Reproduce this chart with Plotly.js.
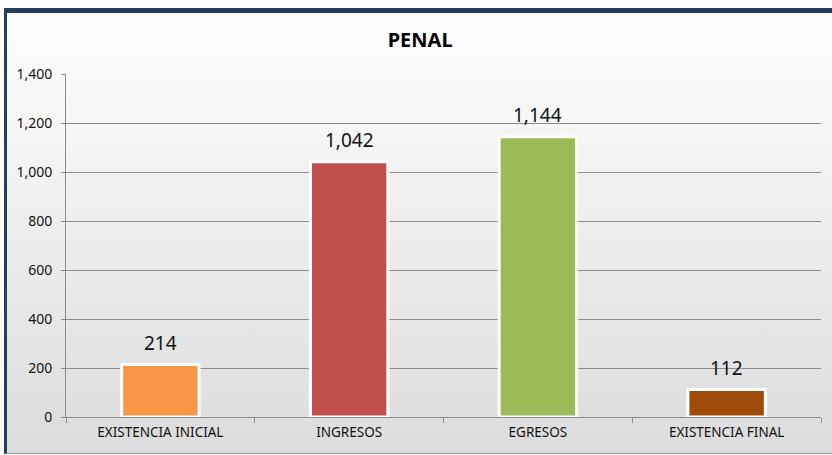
<!DOCTYPE html>
<html>
<head>
<meta charset="utf-8">
<script src="https://cdn.plot.ly/plotly-3.0.1.min.js"></script>
<style>
html,body{margin:0;padding:0;background:#fff;}
#frame{position:absolute;left:4px;top:8px;width:828px;height:446px;box-sizing:border-box;
  border-top:5px solid #243F60;border-left:3px solid #243F60;border-bottom:1px solid #8896A8;
  background:linear-gradient(to bottom,#FFFFFF 0%,#EFEFEF 45%,#DCDCDC 100%);}
#chart{position:absolute;left:0;top:0;width:832px;height:455px;}
</style>
</head>
<body>
<div id="frame"></div>
<div id="chart"></div>
<script>
const categories = ["EXISTENCIA INICIAL", "INGRESOS", "EGRESOS", "EXISTENCIA FINAL"];
const values = [214, 1042, 1144, 112];
const barColors = ["#F79646", "#C0504D", "#9BBB59", "#9E4A09"];
const yTickVals = [0, 200, 400, 600, 800, 1000, 1200, 1400];
const yTickText = ["0", "200", "400", "600", "800", "1,000", "1,200", "1,400"];

const fmt = v => v.toLocaleString("en-US");
const FONT = "Noto Sans, Open Sans, sans-serif";

const trace = {
  type: "bar",
  x: categories,
  y: values,
  width: 0.41,
  marker: {color: barColors, line: {color: "#FFFFFF", width: 3}},
  hoverinfo: "none"
};

const annotations = categories.map((c, i) => ({
  x: c, y: values[i], xref: "x", yref: "y",
  text: fmt(values[i]), showarrow: false,
  yanchor: "bottom", yshift: 7,
  font: {family: FONT, size: 19, color: "#111"}
}));

const layout = {
  width: 832, height: 455,
  margin: {l: 66, r: 11, t: 74, b: 38},
  paper_bgcolor: "rgba(0,0,0,0)",
  plot_bgcolor: "rgba(0,0,0,0)",
  title: {text: "<b>PENAL</b>", x: 0.505, xanchor: "center", y: 0.913, yanchor: "middle",
    font: {family: FONT, size: 20, color: "#000"}},
  showlegend: false,
  xaxis: {
    showline: true, linecolor: "#8C8C8C", linewidth: 1,
    ticks: "outside", ticklen: 5, tickcolor: "#8C8C8C", tickson: "boundaries",
    tickfont: {family: FONT, size: 13.5, color: "#111"},
    ticklabelstandoff: 3,
    showgrid: false, fixedrange: true
  },
  yaxis: {
    range: [0, 1400], tickvals: yTickVals, ticktext: yTickText,
    showline: true, linecolor: "#8C8C8C", linewidth: 1,
    ticks: "outside", ticklen: 4, tickcolor: "#8C8C8C",
    showgrid: true, gridcolor: "#8C8C8C", gridwidth: 1,
    zeroline: false,
    tickfont: {family: FONT, size: 14, color: "#111"},
    ticklabelstandoff: 6,
    fixedrange: true
  },
  annotations: annotations
};

Plotly.newPlot("chart", [trace], layout, {displayModeBar: false, staticPlot: true});
</script>
</body>
</html>
